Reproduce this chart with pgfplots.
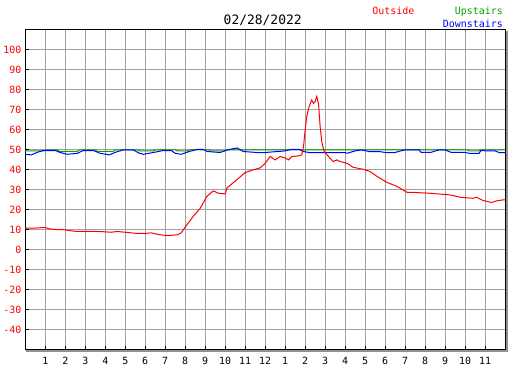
\documentclass[border=0pt]{standalone}
\usepackage{fontspec}
\setmainfont{DejaVu Sans Mono}
\usepackage{pgfplots}
\pgfplotsset{compat=1.18}
\definecolor{gridgray}{HTML}{A0A0A0}
\definecolor{upgreen}{HTML}{00A000}
\definecolor{shadowgray}{HTML}{909090}

\begin{document}
\begin{tikzpicture}
\begin{axis}[
  scale only axis, width=480bp, height=320bp,
  xmin=0, xmax=24, ymin=-50, ymax=110,
  xtick={1,...,23},
  xticklabels={1,2,3,4,5,6,7,8,9,10,11,12,1,2,3,4,5,6,7,8,9,10,11},
  ytick={-40,-30,...,100},
  grid=major, major grid style={gridgray, line width=1bp},
  tick align=inside, xtick pos=left, ytick pos=left,
  major tick length=4bp, tick style={black, line width=1bp},
  axis line style={black, line width=1bp},
  /pgf/number format/assume math mode=true,
  x tick label style={font=\fontsize{10}{12}\selectfont, text=black, yshift=-4bp},
  y tick label style={font=\fontsize{10}{12}\selectfont, text=red, xshift=-0.5bp},
  clip=false,
]
\coordinate (SW) at (rel axis cs:0,0);
\coordinate (SE) at (rel axis cs:1,0);
\coordinate (NE) at (rel axis cs:1,1);
\coordinate (NC) at (rel axis cs:0.5,1);

% Upstairs
\addplot[upgreen, line width=1bp] coordinates {
(0,49.5) (0.9,49.5) (1.0,50) (1.6,50) (1.7,49.3) (2.6,49.3) (2.7,50) (3.5,50) (3.6,49.3) (4.4,49.3) (4.5,50)
(5.6,50) (5.7,49.5) (6.4,49.5) (6.5,50) (7.5,50) (7.6,49.5) (8.1,49.5) (8.2,50) (9.2,50) (9.3,49.5) (10.0,49.5) (10.1,50)
(22.1,50) (22.2,49.5) (22.7,49.5) (22.8,50) (24,50)
};
% Downstairs
\addplot[blue, line width=1bp] coordinates {
(0,47.8) (0.3,47.5) (0.6,48.8) (0.9,49.7) (1.5,49.7) (1.75,48.7) (2.1,47.8) (2.6,48.3) (2.9,49.7) (3.4,49.7)
(3.75,48.3) (4.2,47.5) (4.5,48.8) (4.9,50) (5.4,50) (5.67,48.5) (5.9,47.8) (6.4,48.7) (6.9,49.7) (7.3,49.7)
(7.5,48.3) (7.8,47.8) (8.2,49.2) (8.6,50.3) (8.9,50.3) (9.1,49.2) (9.75,48.7) (10.1,50) (10.6,51) (10.9,49.2)
(11.6,48.7) (12.0,48.7) (13.0,49.5) (13.3,50.3) (13.7,50.3) (13.9,49.2) (14.2,48.7) (16.0,48.7) (16.1,48.3)
(16.5,49.5) (16.8,50) (17.2,49.2) (17.7,49.2) (18.0,48.7) (18.5,48.7) (18.7,49.3) (19.0,50) (19.7,50)
(19.8,48.8) (20.3,48.8) (20.7,50) (21.0,50) (21.3,48.8) (22.0,48.8) (22.2,48.3) (22.7,48.3) (22.8,49.7)
(23.1,49.5) (23.5,49.5) (23.7,48.7) (24,48.7)
};
% Outside
\addplot[red, line width=1bp] coordinates {
(0,10.8) (0.5,10.9) (1.0,11.2) (1.2,10.5) (1.5,10.2) (2.0,10.0) (2.3,9.5) (2.6,9.2) (3.0,9.2) (3.5,9.3)
(4.0,9.0) (4.3,8.8) (4.6,9.2) (5.0,8.8) (5.5,8.3) (6.0,8.2) (6.3,8.5) (6.6,7.8) (7.0,7.2) (7.3,7.3)
(7.6,7.5) (7.8,8.5) (8.08,12.5) (8.4,16.7) (8.75,20.8) (9.08,26.7) (9.4,29.5) (9.67,28.3) (10.0,28.0)
(10.08,30.8) (10.33,33) (10.67,35.8) (11.0,38.7) (11.4,40) (11.75,41) (12.0,43.3) (12.25,46.7) (12.5,45)
(12.75,46.7) (13.0,46) (13.17,45) (13.33,46.7) (13.67,47) (13.83,47.5) (13.92,51.7) (14.0,60) (14.08,66.7)
(14.2,71.7) (14.33,75) (14.42,73.3) (14.5,74.2) (14.58,76.7) (14.67,73) (14.75,61.7) (14.83,54.2)
(14.95,49.2) (15.17,46.7) (15.4,44.2) (15.58,45) (15.75,44.2) (16.1,43.3) (16.4,41.3) (16.9,40.3)
(17.25,39.2) (17.6,36.7) (18.1,33.7) (18.6,31.7) (19.1,28.8) (19.5,28.7) (20.25,28.3) (21.25,27.5)
(21.75,26.3) (22.4,25.8) (22.58,26.3) (22.9,24.7) (23.33,23.7) (23.58,24.5) (23.9,25) (24,25)
};
\end{axis}
% shadow
\draw[shadowgray, line width=2bp] ([xshift=1bp,yshift=-1.5bp]SW) -- ([xshift=1.5bp,yshift=-1.5bp]SE) -- ([xshift=1.5bp,yshift=-1bp]NE);
% title and legend
\node[anchor=base, font=\fontsize{13}{15}\selectfont, inner sep=0pt] at ([xshift=-2.5bp,yshift=5bp]NC) {02/28/2022};
\node[anchor=base west, font=\fontsize{10}{12}\selectfont, text=red, inner sep=0pt] at ([xshift=-133bp,yshift=15bp]NE) {Outside};
\node[anchor=base east, font=\fontsize{10}{12}\selectfont, text=upgreen, inner sep=0pt] at ([xshift=-2bp,yshift=15bp]NE) {Upstairs};
\node[anchor=base east, font=\fontsize{10}{12}\selectfont, text=blue, inner sep=0pt] at ([xshift=-2bp,yshift=2.5bp]NE) {Downstairs};
% page size
\path ([xshift=-25bp,yshift=-20bp]SW) rectangle ([xshift=22bp,yshift=30bp]NE);
\end{tikzpicture}
\end{document}
